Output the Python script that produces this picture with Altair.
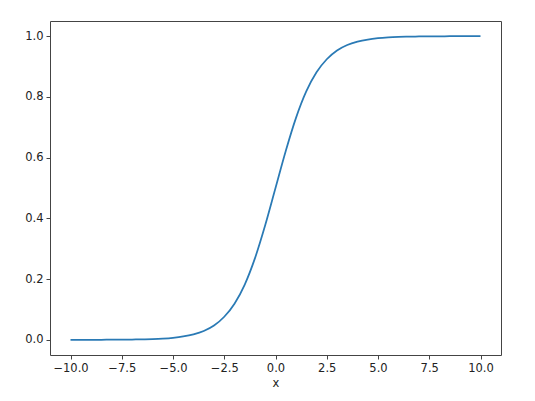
import altair as alt
import pandas as pd

# values
xs = [-10.0, -9.5, -9.0, -8.5, -8.0, -7.5, -7.0, -6.5, -6.0, -5.5, -5.0, -4.5,
      -4.0, -3.5, -3.0, -2.5, -2.0, -1.5, -1.0, -0.5, 0.0, 0.5, 1.0, 1.5, 2.0,
      2.5, 3.0, 3.5, 4.0, 4.5, 5.0, 5.5, 6.0, 6.5, 7.0, 7.5, 8.0, 8.5, 9.0, 9.5, 10.0]
ys = [0.0000, 0.0001, 0.0001, 0.0002, 0.0003, 0.0006, 0.0009, 0.0015, 0.0025, 0.0041, 0.0067, 0.011,
      0.018, 0.029, 0.047, 0.076, 0.119, 0.182, 0.269, 0.378, 0.500, 0.622, 0.731, 0.818, 0.881,
      0.924, 0.953, 0.971, 0.982, 0.989, 0.9933, 0.9959, 0.9975, 0.9985, 0.9991, 0.9994, 0.9997,
      0.9998, 0.9999, 0.9999, 1.0000]

x_ticks = [-10.0, -7.5, -5.0, -2.5, 0.0, 2.5, 5.0, 7.5, 10.0]
y_ticks = [0.0, 0.2, 0.4, 0.6, 0.8, 1.0]

df = pd.DataFrame({"x": xs, "y": ys})

chart = alt.Chart(df).mark_line(
    color="#2a7ab5", strokeWidth=1.75, interpolate="monotone"
).encode(
    x=alt.X("x:Q", scale=alt.Scale(domain=[-11, 11], nice=False, zero=False),
            axis=alt.Axis(values=x_ticks, format=".1f", title="x", grid=False)),
    y=alt.Y("y:Q", scale=alt.Scale(domain=[-0.05, 1.05], nice=False, zero=False),
            axis=alt.Axis(values=y_ticks, format=".1f", title=None, grid=False)),
).properties(
    width=451, height=334,
    autosize=alt.AutoSizeParams(type="none"),
    padding={"left": 42, "top": 13, "right": 20, "bottom": 38},
).configure_view(
    stroke="#444444", strokeWidth=1
).configure_axis(
    domain=False,
    tickColor="#444444", tickSize=4, tickWidth=1,
    labelFont="DejaVu Sans", labelFontSize=11.5, labelColor="#222222", labelPadding=3,
    titleFont="DejaVu Sans", titleFontSize=11.5, titleColor="#222222",
    titleFontWeight="normal", titlePadding=4,
)

chart.save("out.html", embed_options={"renderer": "svg", "actions": False})
